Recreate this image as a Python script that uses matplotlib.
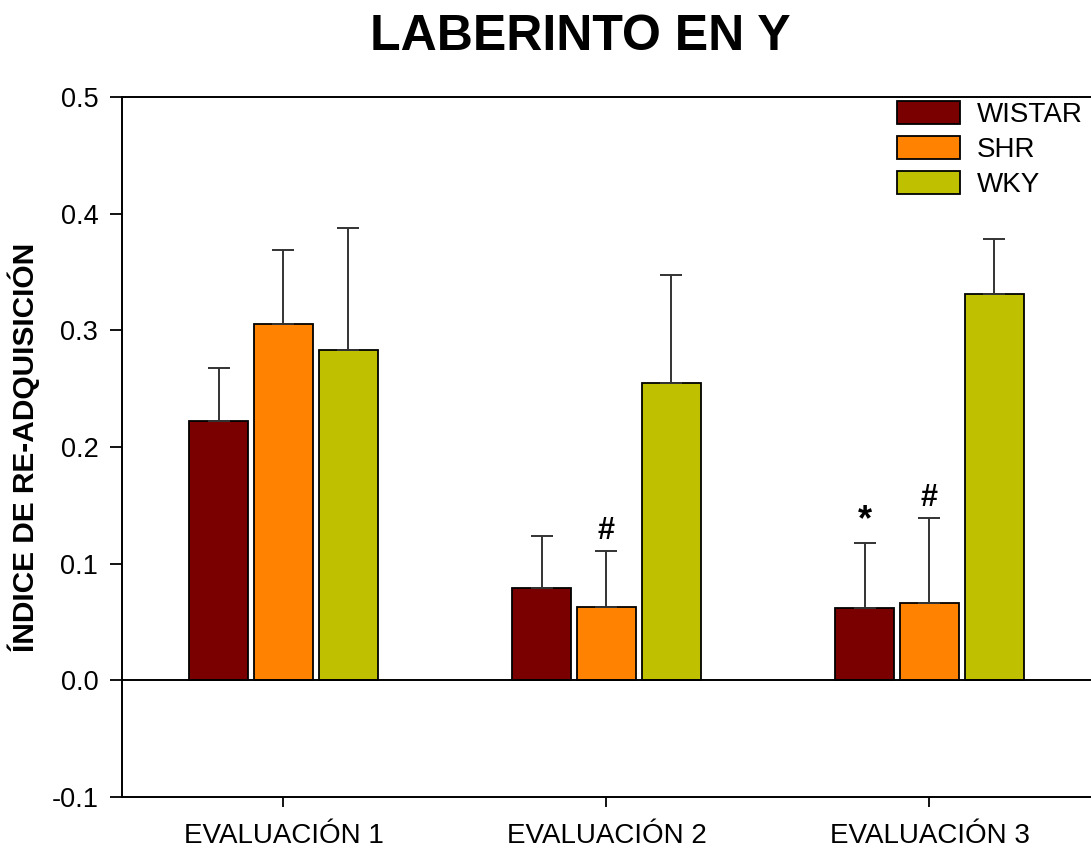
import matplotlib.pyplot as plt
import numpy as np

plt.rcParams['font.family'] = ['Liberation Sans', 'DejaVu Sans']

grupos = ["EVALUACIÓN 1", "EVALUACIÓN 2", "EVALUACIÓN 3"]
cepas = ["WISTAR", "SHR", "WKY"]
colores = ["#7a0000", "#ff8200", "#bfc000"]

medias = {
    "WISTAR": [0.222, 0.079, 0.062],
    "SHR": [0.305, 0.063, 0.066],
    "WKY": [0.283, 0.255, 0.331],
}
errores = {
    "WISTAR": [0.046, 0.045, 0.056],
    "SHR": [0.064, 0.048, 0.073],
    "WKY": [0.105, 0.092, 0.047],
}
# marcas de significancia: (grupo, cepa, simbolo)
marcas = [(1, "SHR", "#"), (2, "WISTAR", "*"), (2, "SHR", "#")]

fig = plt.figure(figsize=(10.91, 8.5), dpi=100)
ax = fig.add_axes([0.1118, 0.0624, 0.8882, 0.8235])

x = np.arange(len(grupos))
ancho = 0.183
paso = 0.2

for i, cepa in enumerate(cepas):
    pos = x + (i - 1) * paso
    ax.bar(pos, medias[cepa], ancho, color=colores[i], edgecolor="black",
           linewidth=1.3, label=cepa, zorder=2)
    ax.errorbar(pos, medias[cepa], yerr=[np.zeros(len(x)), errores[cepa]],
                fmt="none", ecolor="#333333", elinewidth=1.4, capsize=8,
                capthick=1.4, zorder=3)

for g, cepa, simbolo in marcas:
    i = cepas.index(cepa)
    tope = medias[cepa][g] + errores[cepa][g]
    tam = 26 if simbolo == "*" else 22
    ax.text(x[g] + (i - 1) * paso, tope + 0.004, simbolo, ha="center",
            va="bottom", fontsize=tam, fontweight="bold")

ax.axhline(0, color="black", linewidth=1.4, zorder=4)

ax.set_xlim(-0.5, 2.5)
ax.set_ylim(-0.1, 0.5)
ax.set_yticks([-0.1, 0.0, 0.1, 0.2, 0.3, 0.4, 0.5])
ax.set_yticklabels(["-0.1", "0.0", "0.1", "0.2", "0.3", "0.4", "0.5"])
ax.set_xticks(x)
ax.set_xticklabels(grupos)
ax.tick_params(axis="y", direction="out", length=9, width=1.3,
               labelsize=19.5, pad=8)
ax.tick_params(axis="x", direction="out", length=7.5, width=1.3,
               labelsize=20, pad=11)

ax.spines["right"].set_visible(False)
for s in ["left", "top", "bottom"]:
    ax.spines[s].set_linewidth(1.4)

ax.set_ylabel("ÍNDICE DE RE-ADQUISICIÓN", fontsize=21.5, fontweight="bold")
ax.yaxis.set_label_coords(-0.085, 0.5)

fig.text(0.532, 0.956, "LABERINTO EN Y", ha="center", va="center",
         fontsize=36, fontweight="bold")

ax.legend(loc="upper left", bbox_to_anchor=(897 / 1091, 1 - 101 / 850),
          bbox_transform=fig.transFigure, frameon=False, fontsize=20,
          handlelength=2.27, handleheight=0.87, handletextpad=0.6,
          labelspacing=0.3, borderpad=0, borderaxespad=0)

fig.savefig("out.png", dpi=100)
